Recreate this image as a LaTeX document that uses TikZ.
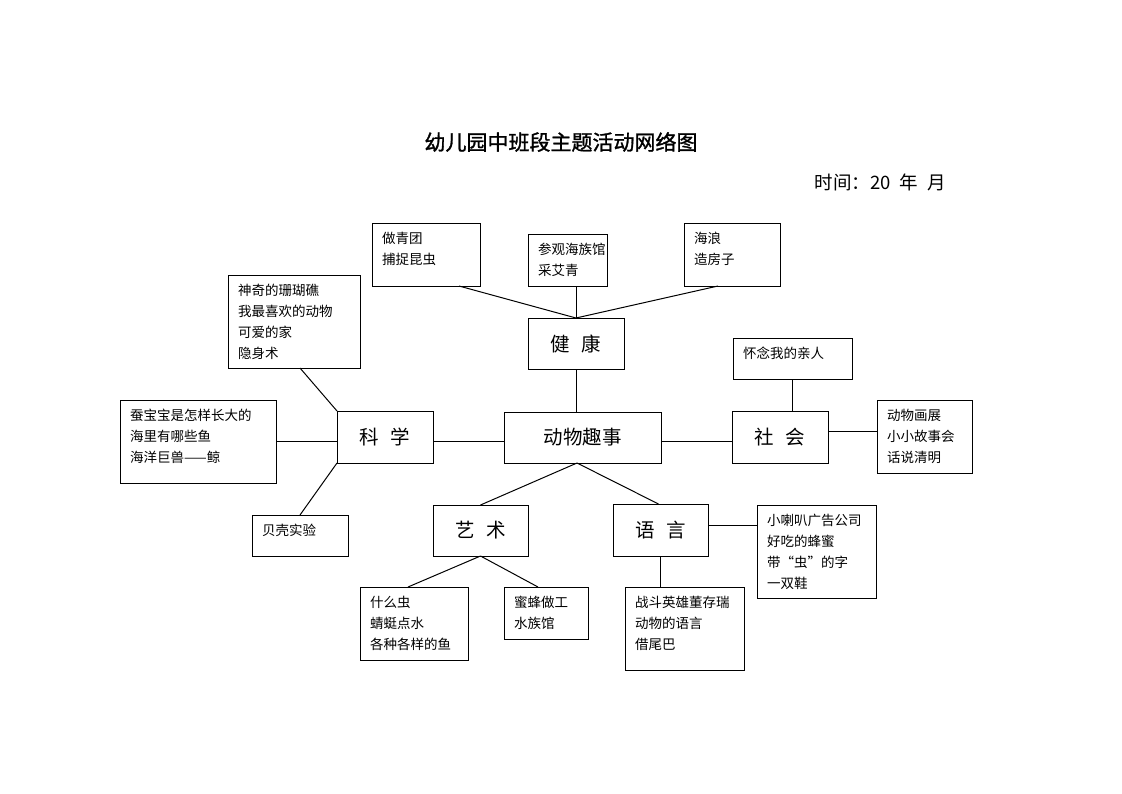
\documentclass[tikz,border=0pt]{standalone}
\usepackage{fontspec}
\setmainfont{Noto Sans CJK SC}
\newfontfamily\titlefont[FakeBold=1.3]{Noto Sans CJK SC}
\newcommand\bxx[6]{%
  \node[box,minimum width={#4-#2},minimum height={#5-#3}] (#1) at ({(#2+#4)/2},{(#3+#5)/2}) {};
  \node[txt] (#1t) at ([xshift=10pt,yshift=-9pt]#1.north west) {#6};}
\begin{document}
\begin{tikzpicture}[x=1pt,y=-1pt,
  box/.style={draw, line width=1pt, inner sep=0pt, outer sep=0pt},
  txt/.style={anchor=north west, inner sep=0pt, align=left, font=\fontsize{13.5}{21}\selectfont},
  cat/.style={box, font=\fontsize{19.5}{22}\selectfont},
  conn/.style={line width=1pt}]
\useasboundingbox[fill=white] (0,0) rectangle (1122,793);

\node[font=\titlefont\fontsize{21}{24}\selectfont] (title) at (561,142) {幼儿园中班段主题活动网络图};
\node[font=\fontsize{18.5}{22}\selectfont, anchor=west] (time) at (811,182) {时间：20\hspace{0.5em}年\hspace{0.5em}月};

% category boxes
\node[cat,minimum width=96,minimum height=51] (jk) at (576,343.5) {健\hspace{0.6em}康};
\node[cat,minimum width=157,minimum height=51] (dw) at (582.5,437.5) {动物趣事};
\node[cat,minimum width=96,minimum height=52] (kx) at (385,437) {科\hspace{0.6em}学};
\node[cat,minimum width=96,minimum height=52] (sh) at (780,437) {社\hspace{0.6em}会};
\node[cat,minimum width=95,minimum height=51] (ys) at (480.5,530.5) {艺\hspace{0.6em}术};
\node[cat,minimum width=95,minimum height=52] (yy) at (660.5,530) {语\hspace{0.6em}言};

% activity boxes
\bxx{zqt}{372}{223}{480}{286}{做青团\\捕捉昆虫}
\bxx{cg}{528}{234}{607}{286}{参观海族馆\\采艾青}
\bxx{hl}{684}{223}{780}{286}{海浪\\造房子}
\bxx{sq}{228}{275}{360}{368}{神奇的珊瑚礁\\我最喜欢的动物\\可爱的家\\隐身术}
\bxx{cbb}{120}{400}{276}{483}{蚕宝宝是怎样长大的\\海里有哪些鱼\\海洋巨兽——鲸}
\bxx{bk}{252}{515}{348}{556}{贝壳实验}
\bxx{hn}{733}{338}{852}{379}{怀念我的亲人}
\bxx{hz}{877}{400}{972}{473}{动物画展\\小小故事会\\话说清明}
\bxx{xlb}{757}{505}{876}{598}{小喇叭广告公司\\好吃的蜂蜜\\带“虫”的字\\一双鞋}
\bxx{smc}{360}{587}{468}{660}{什么虫\\蜻蜓点水\\各种各样的鱼}
\bxx{mf}{504}{587}{588}{639}{蜜蜂做工\\水族馆}
\bxx{zd}{625}{587}{744}{670}{战斗英雄董存瑞\\动物的语言\\借尾巴}

% connectors
\draw[conn] ([xshift=33pt]zqt.south) -- (jk.north);
\draw[conn] (jk.north) -- (jk.north |- cg.south);
\draw[conn] ([xshift=-14pt]hl.south) -- (jk.north);
\draw[conn] (jk.south) -- (jk.south |- dw.north);
\draw[conn] ([xshift=6pt]sq.south) -- (kx.north west);
\draw[conn] (cbb.east) -- (cbb.east -| kx.west);
\draw[conn] (bk.north) -- (kx.south west);
\draw[conn] ([yshift=-4.5pt]kx.east) -- ([yshift=-4.5pt]kx.east -| dw.west);
\draw[conn] ([yshift=-4.5pt]sh.west -| dw.east) -- ([yshift=-4.5pt]sh.west);
\draw[conn] (hn.south) -- (hn.south |- sh.north);
\draw[conn] ([yshift=6pt]sh.east) -- ([yshift=6pt]sh.east -| hz.west);
\draw[conn] ([xshift=-5.5pt]dw.south) -- (ys.north);
\draw[conn] ([xshift=-5.5pt]dw.south) -- ([xshift=-2pt]yy.north);
\draw[conn] (ys.south) -- ([xshift=-6pt]smc.north);
\draw[conn] (ys.south) -- ([xshift=-8pt]mf.north);
\draw[conn] (yy.south) -- (yy.south |- zd.north);
\draw[conn] ([yshift=5pt]yy.east) -- ([yshift=5pt]yy.east -| xlb.west);
\end{tikzpicture}
\end{document}
